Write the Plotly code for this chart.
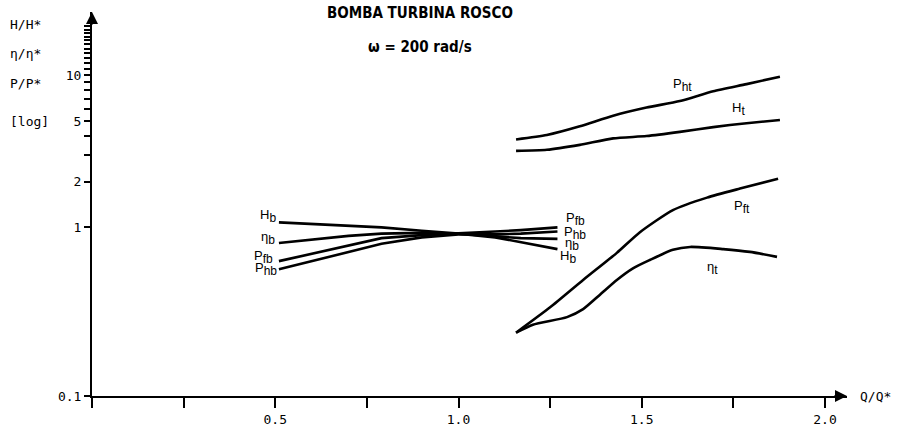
import numpy as np
import plotly.graph_objects as go

# ---------------- data ----------------
x_pump = [0.51, 0.60, 0.70, 0.79, 0.90, 1.00, 1.10, 1.17, 1.27]
H_b   = [1.08, 1.05, 1.02, 1.00, 0.95, 0.91, 0.86, 0.80, 0.72]
eta_b = [0.79, 0.83, 0.88, 0.91, 0.92, 0.91, 0.88, 0.85, 0.84]
Pf_b  = [0.60, 0.67, 0.76, 0.85, 0.89, 0.91, 0.94, 0.96, 1.00]
Ph_b  = [0.53, 0.60, 0.69, 0.78, 0.86, 0.90, 0.90, 0.91, 0.94]

x_turb_hi = [1.157, 1.241, 1.331, 1.422, 1.513, 1.604, 1.695, 1.786, 1.877]
Ph_t = [3.79, 4.05, 4.62, 5.43, 6.14, 6.78, 7.86, 8.76, 9.81]
H_t  = [3.19, 3.24, 3.49, 3.85, 3.99, 4.25, 4.57, 4.85, 5.09]

x_Pf_t = [1.157, 1.25, 1.34, 1.432, 1.495, 1.585, 1.678, 1.768, 1.872]
Pf_t   = [0.203, 0.298, 0.451, 0.68, 0.93, 1.30, 1.57, 1.80, 2.09]

x_eta_t = [1.157, 1.203, 1.296, 1.340, 1.386, 1.432, 1.476, 1.522, 1.585, 1.632, 1.722, 1.795, 1.869]
eta_t   = [0.203, 0.229, 0.257, 0.290, 0.361, 0.451, 0.538, 0.610, 0.712, 0.744, 0.720, 0.690, 0.640]

x_tickvals = [0, 0.25, 0.5, 0.75, 1.0, 1.25, 1.5, 1.75, 2.0]
x_ticktext = ["", "", "0.5", "", "1.0", "", "1.5", "", "2.0"]

y_bottom = 10 ** -1.109
y_tickvals = [y_bottom, 1, 2, 3, 4, 5, 6, 7, 8, 9, 10, 11, 12, 13, 14, 15, 16, 17, 18, 19, 20, 21]
y_ticktext = ["0.1", "1", "2", "", "", "5", "", "", "", "", "10"] + [""] * 11

# curve labels: (main, subscript, x, y)
curve_labels = [
    ("H", "b", 0.48, 1.19),
    ("η", "b", 0.48, 0.85),
    ("P", "fb", 0.469, 0.643),
    ("P", "hb", 0.475, 0.53),
    ("P", "fb", 1.318, 1.13),
    ("P", "hb", 1.318, 0.925),
    ("η", "b", 1.31, 0.775),
    ("H", "b", 1.30, 0.643),
    ("P", "ht", 1.61, 8.63),
    ("H", "t", 1.765, 6.05),
    ("P", "ft", 1.774, 1.365),
    ("η", "t", 1.692, 0.538),
]

# ---------------- figure ----------------
fig = go.Figure()
for xs, ys, shp in [(x_pump, H_b, "linear"), (x_pump, eta_b, "linear"),
                    (x_pump, Pf_b, "linear"), (x_pump, Ph_b, "linear"),
                    (x_turb_hi, Ph_t, "spline"), (x_turb_hi, H_t, "spline"),
                    (x_Pf_t, Pf_t, "spline"), (x_eta_t, eta_t, "spline")]:
    fig.add_trace(go.Scatter(x=xs, y=ys, mode="lines",
                             line=dict(color="black", width=2.6, shape=shp, smoothing=0.6),
                             showlegend=False, hoverinfo="skip"))

lab_font = dict(family="Liberation Sans", size=13, color="black")
for m, s, x, y in curve_labels:
    txt = f"{m}<sub><span style='font-size:12px'>{s}</span></sub>"
    fig.add_annotation(x=x, y=np.log10(y), text=txt, showarrow=False, font=lab_font,
                       xanchor="center", yanchor="middle")

mono = dict(family="DejaVu Sans Mono", size=13, color="black")
for t, yy in [("H/H*", 0.967), ("η/η*", 0.891), ("P/P*", 0.815), ("[log]", 0.716)]:
    fig.add_annotation(xref="paper", yref="paper", x=-0.111, y=yy, text=t, showarrow=False,
                       font=mono, xanchor="left", yanchor="middle")

fig.add_annotation(xref="paper", yref="paper", x=1.014, y=0.0, text="Q/Q*", showarrow=False,
                   font=mono, xanchor="left", yanchor="middle")

title_font = dict(family="DejaVu Sans Condensed, Liberation Sans", size=15, color="black",
                  weight="bold")
fig.add_annotation(xref="paper", yref="paper", x=0.434, y=0.997, text="BOMBA TURBINA ROSCO",
                   showarrow=False, font=title_font, xanchor="center", yanchor="middle")
fig.add_annotation(xref="paper", yref="paper", x=0.434, y=0.909, text="ω = 200 rad/s",
                   showarrow=False, font=title_font, xanchor="center", yanchor="middle")

# axis arrowheads
fig.add_annotation(xref="paper", yref="paper", x=1.0, y=0.0, ax=-14, ay=0, showarrow=True,
                   arrowhead=2, arrowsize=1.2, arrowwidth=2, arrowcolor="black", text="")
fig.add_annotation(xref="paper", yref="paper", x=0.0, y=1.0, ax=0, ay=14, showarrow=True,
                   arrowhead=2, arrowsize=1.2, arrowwidth=2, arrowcolor="black", text="")

fig.update_xaxes(range=[0, 2.06], showgrid=False, zeroline=False, showline=True,
                 linecolor="black", linewidth=2, ticks="outside", ticklen=10, tickwidth=2,
                 tickcolor="black", tickvals=x_tickvals, ticktext=x_ticktext,
                 tickfont=mono)
fig.update_yaxes(type="log", range=[-1.109, 1.417], showgrid=False, zeroline=False,
                 showline=True, linecolor="black", linewidth=2, ticks="outside",
                 ticklen=6, tickwidth=2, tickcolor="black", tickvals=y_tickvals,
                 ticktext=y_ticktext, tickfont=mono)

fig.update_layout(width=901, height=439, margin=dict(l=92, r=54, t=12, b=33),
                  plot_bgcolor="white", paper_bgcolor="white")

fig.write_html("out.html")
